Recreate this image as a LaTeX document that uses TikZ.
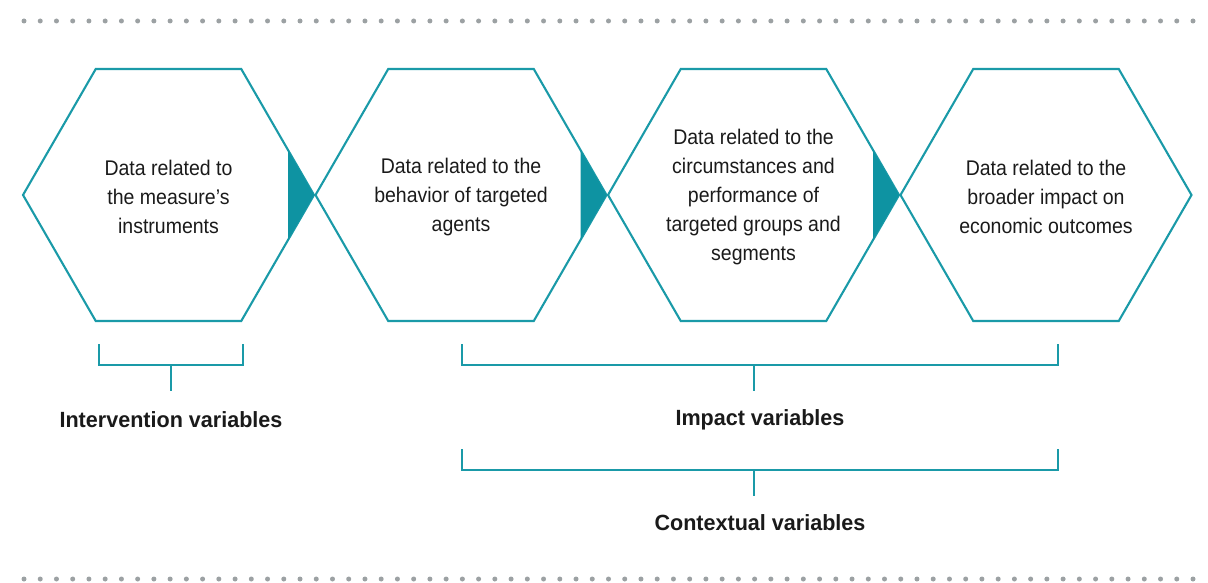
\documentclass[tikz,border=0pt]{standalone}
\usepackage{fontspec}
\setmainfont{Liberation Sans}
\newfontfamily\bodyfont[FakeStretch=0.92]{Liberation Sans}
\newfontfamily\labelfont[FakeStretch=0.98]{Liberation Sans}
\usetikzlibrary{shapes.geometric,calc}
\definecolor{hexline}{HTML}{1A9AA8}
\definecolor{hexfill}{HTML}{0E93A2}
\definecolor{dotgray}{HTML}{9CA1A3}
\definecolor{txt}{HTML}{1A1A1A}
\tikzset{
  hexbox/.style={regular polygon, regular polygon sides=6, minimum size=291pt,
    inner sep=0pt, outer sep=0pt, draw=hexline, line width=2.1pt},
  hextext/.style={align=center, text=txt, font=\bodyfont\fontsize{21.2}{28.8}\selectfont},
  grouplabel/.style={text=txt, font=\labelfont\bfseries\fontsize{22}{26}\selectfont},
  bracket/.style={draw=hexline, line width=1.6pt},
  joint/.style={fill=hexfill},
  dotrow/.style={fill=dotgray}
}
\begin{document}
\begin{tikzpicture}[x=1pt,y=-1pt]
  \useasboundingbox (0,0) rectangle (1208,583);
  % dotted rules top and bottom
  \foreach \i in {0,...,72} {
    \fill[dotrow] (24+16.236*\i,21) circle (2.5pt);
    \fill[dotrow] (24+16.236*\i,579) circle (2.5pt);
  }
  % hexagons
  \node[hexbox] (h1) at (168.5,195) {};
  \node[hexbox] (h2) at (461,195) {};
  \node[hexbox] (h3) at (753.5,195) {};
  \node[hexbox] (h4) at (1046,195) {};
  % filled joints between neighbouring hexagons
  \foreach \h in {h1,h2,h3} {
    \fill[joint] (\h.east) -- ($(\h.east)+(-26,-45)$) -- ($(\h.east)+(-26,45)$) -- cycle;
  }
  % hexagon texts
  \node[hextext] (t1) at (168.5,197) {Data related to\\the measure’s\\instruments};
  \node[hextext] (t2) at (461,197) {Data related to the\\behavior of targeted\\agents};
  \node[hextext] (t3) at (753.5,197) {Data related to the\\circumstances and\\performance of\\targeted groups and\\segments};
  \node[hextext] (t4) at (1046,197) {Data related to the\\broader impact on\\economic outcomes};
  % group labels
  \node[grouplabel] (lint) at (171,420) {Intervention variables};
  \node[grouplabel] (limp) at (760,420) {Impact variables};
  \node[grouplabel] (lctx) at (760,523) {Contextual variables};
  % brackets
  \coordinate (b1l) at (99,344);
  \coordinate (b1r) at (243,344);
  \coordinate (b1m) at (171,365);
  \draw[bracket] (b1l) |- (b1r |- b1m) -- (b1r);
  \draw[bracket] (b1m) -- ++(0,26);
  \coordinate (b2l) at (462,344);
  \coordinate (b2r) at (1058,344);
  \coordinate (b2m) at (754,365);
  \draw[bracket] (b2l) |- (b2r |- b2m) -- (b2r);
  \draw[bracket] (b2m) -- ++(0,26);
  \coordinate (b3l) at (462,449);
  \coordinate (b3r) at (1058,449);
  \coordinate (b3m) at (754,470);
  \draw[bracket] (b3l) |- (b3r |- b3m) -- (b3r);
  \draw[bracket] (b3m) -- ++(0,26);
\end{tikzpicture}
\end{document}
